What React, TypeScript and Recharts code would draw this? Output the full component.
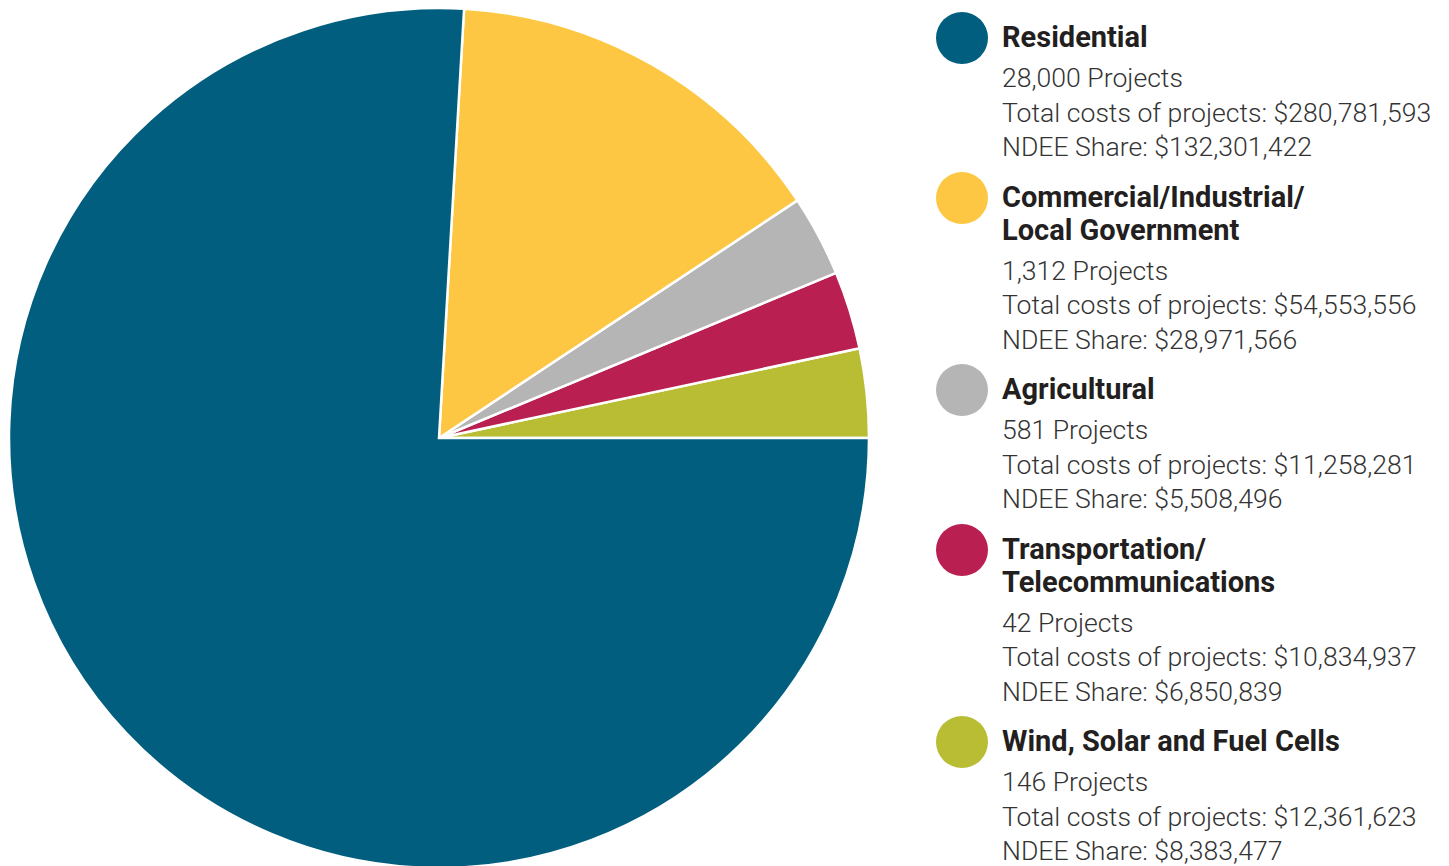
import { PieChart, Pie, Cell } from "recharts";

// legend order (top to bottom)
const categories = [
  "Residential",
  "Commercial/Industrial/\nLocal Government",
  "Agricultural",
  "Transportation/\nTelecommunications",
  "Wind, Solar and Fuel Cells",
];
const projects = ["28,000", "1,312", "581", "42", "146"];
const totalCosts = [280781593, 54553556, 11258281, 10834937, 12361623];
const ndeeShares = [132301422, 28971566, 5508496, 6850839, 8383477];

const COLORS = ["#015e7e", "#fdc743", "#b5b5b5", "#b91f51", "#b8bd33"];

const fmt = (n: number) => "$" + n.toLocaleString("en-US");

// pie goes counter-clockwise from 3 o'clock: wind first, residential last
const pieData = categories
  .map((name, i) => ({ name, value: totalCosts[i], color: COLORS[i] }))
  .reverse();

export default function App() {
  return (
    <div
      style={{
        position: "absolute",
        left: 0,
        top: 0,
        width: 1449,
        height: 866,
        overflow: "hidden",
        background: "#fff",
        fontFamily: "Roboto, sans-serif",
      }}
    >
      <div style={{ position: "absolute", left: 0, top: 0 }}>
        <PieChart
          width={880}
          height={880}
          margin={{ top: 0, right: 0, bottom: 0, left: 0 }}
        >
          <Pie
            data={pieData}
            dataKey="value"
            nameKey="name"
            cx={439}
            cy={438}
            outerRadius={430}
            startAngle={0}
            endAngle={360}
            stroke="#ffffff"
            strokeWidth={2.5}
            isAnimationActive={false}
          >
            {pieData.map((d) => (
              <Cell key={d.name} fill={d.color} />
            ))}
          </Pie>
        </PieChart>
      </div>

      <div
        style={{
          position: "absolute",
          left: 936,
          top: 21,
          display: "flex",
          flexDirection: "column",
          gap: 16,
        }}
      >
        {categories.map((c, i) => (
          <div key={c} style={{ display: "flex", alignItems: "flex-start" }}>
            <div
              style={{
                width: 52,
                height: 52,
                borderRadius: "50%",
                background: COLORS[i],
                marginTop: -9,
                flexShrink: 0,
              }}
            />
            <div style={{ marginLeft: 14 }}>
              <div
                style={{
                  fontSize: 29,
                  fontWeight: 700,
                  lineHeight: "33px",
                  color: "#231f20",
                  whiteSpace: "pre",
                  marginBottom: 7,
                }}
              >
                {c}
              </div>
              <div
                style={{
                  fontSize: 26.6,
                  fontWeight: 300,
                  lineHeight: "34.5px",
                  color: "#333",
                  whiteSpace: "nowrap",
                }}
              >
                <div>{projects[i]} Projects</div>
                <div>Total costs of projects: {fmt(totalCosts[i])}</div>
                <div>NDEE Share: {fmt(ndeeShares[i])}</div>
              </div>
            </div>
          </div>
        ))}
      </div>
    </div>
  );
}
